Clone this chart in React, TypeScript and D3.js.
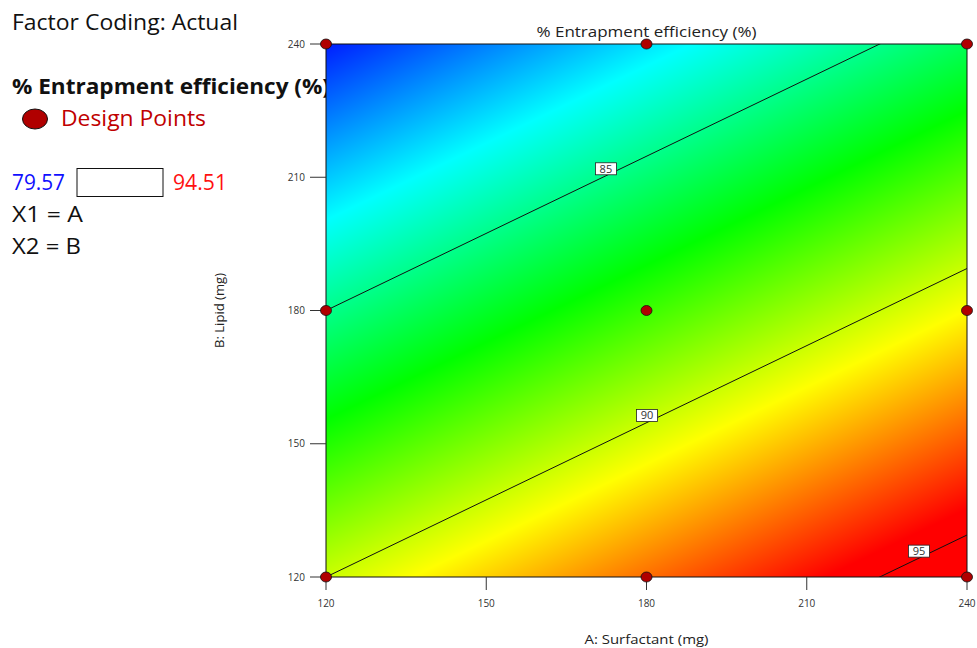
import React, { useMemo } from 'react';
import { scaleLinear, line } from 'd3';

// fitted response model (actual factors coded to -1..1): E = c + a*x1 + b*x2
const modelTerms = ['intercept', 'A', 'B'];
const modelCoefs = [87.894, 2.894, -5.0];

const dataMin = 79.57;
const dataMax = 94.51;

const axisTicks = [120, 150, 180, 210, 240];
const designA = [120, 180, 240, 120, 180, 240, 120, 180, 240];
const designB = [120, 120, 120, 180, 180, 180, 240, 240, 240];

const contourLevels = [85, 90, 95];
const contourLabelA = [172.4, 180.1, 231.0];

const colorStops = ['#0000ff', '#00ffff', '#00ff00', '#ffff00', '#ff0000'];

const W = 977;
const H = 648;
const margin = { left: 326, top: 44, right: 10, bottom: 71 };
const font = '"Open Sans", "Noto Sans", sans-serif';

const code = (v: number) => (v - 180) / 60;
const predict = (A: number, B: number) =>
  modelCoefs[0] + modelCoefs[1] * code(A) + modelCoefs[2] * code(B);

const hexToRgb = (h: string) => [1, 3, 5].map(i => parseInt(h.slice(i, i + 2), 16));

// text stretched to the width it has in the picture
const Txt = ({ x, y, len, size, fill = '#111', bold = false, anchor = 'start', transform, children }: any) => (
  <text x={x} y={y} fontSize={size} fill={fill} fontWeight={bold ? 'bold' : 'normal'}
    textAnchor={anchor} transform={transform} textLength={len} lengthAdjust="spacingAndGlyphs">
    {children}
  </text>
);

const App = () => {
  const plotW = W - margin.left - margin.right;
  const plotH = H - margin.top - margin.bottom;

  const x = scaleLinear().domain([120, 240]).range([margin.left, margin.left + plotW]);
  const y = scaleLinear().domain([120, 240]).range([margin.top + plotH, margin.top]);

  const heatmap = useMemo(() => {
    const canvas = document.createElement('canvas');
    canvas.width = plotW;
    canvas.height = plotH;
    const ctx = canvas.getContext('2d');
    if (!ctx) return '';
    const img = ctx.createImageData(plotW, plotH);
    const stops = colorStops.map(hexToRgb);
    for (let j = 0; j < plotH; j++) {
      const B = y.invert(margin.top + j + 0.5);
      for (let i = 0; i < plotW; i++) {
        const A = x.invert(margin.left + i + 0.5);
        let t = (predict(A, B) - dataMin) / (dataMax - dataMin);
        t = Math.max(0, Math.min(1, t)) * (stops.length - 1);
        const k = Math.min(stops.length - 2, Math.floor(t));
        const f = t - k;
        const p = (j * plotW + i) * 4;
        for (let c = 0; c < 3; c++) {
          img.data[p + c] = Math.round(stops[k][c] + (stops[k + 1][c] - stops[k][c]) * f);
        }
        img.data[p + 3] = 255;
      }
    }
    ctx.putImageData(img, 0, 0);
    return canvas.toDataURL();
  }, []);

  // contour lines: solve B for each A along the level
  const contourLine = line<number[]>().x(d => x(d[0])).y(d => y(d[1]));
  const levelB = (level: number, A: number) =>
    180 + 60 * (level - modelCoefs[0] - modelCoefs[1] * code(A)) / modelCoefs[2];

  const sampleA = [120, 240];

  return (
    <svg width={W} height={H} style={{ position: 'absolute', left: 0, top: 0, display: 'block' }}
      fontFamily={font}>
      <defs>
        <clipPath id="plotClip">
          <rect x={margin.left} y={margin.top} width={plotW} height={plotH} />
        </clipPath>
      </defs>

      {/* left legend */}
      <Txt x={12} y={30} size={21} len={226}>Factor Coding: Actual</Txt>
      <Txt x={12} y={94} size={21} len={318} bold>% Entrapment efficiency (%)</Txt>
      <ellipse cx={35} cy={119} rx={12.5} ry={10} fill="#b00000" stroke="#111" strokeWidth={1} />
      <Txt x={61} y={126} size={21} len={145} fill="#c00000">Design Points</Txt>
      <Txt x={12} y={190} size={21} len={53} fill="#1010ff">{dataMin.toFixed(2)}</Txt>
      <rect x={77} y={168.5} width={86} height={28} fill="#fff" stroke="#111" strokeWidth={1} />
      <Txt x={173} y={190} size={21} len={54} fill="#ff1010">{dataMax.toFixed(2)}</Txt>
      <Txt x={12} y={222} size={21} len={71}>X1 = A</Txt>
      <Txt x={12} y={254} size={21} len={69}>X2 = B</Txt>

      {/* plot */}
      <image href={heatmap} x={margin.left} y={margin.top} width={plotW} height={plotH}
        preserveAspectRatio="none" />
      <g clipPath="url(#plotClip)">
        {contourLevels.map(level => (
          <path key={level} d={contourLine(sampleA.map(A => [A, levelB(level, A)])) || ''}
            fill="none" stroke="#111" strokeWidth={1} />
        ))}
      </g>
      {contourLevels.map((level, i) => {
        const A = contourLabelA[i];
        const cx = x(A);
        const cy = y(levelB(level, A)) - 7;
        return (
          <g key={'lab' + level}>
            <rect x={cx - 10.5} y={cy - 6} width={21} height={12} fill="#fff" stroke="#222" strokeWidth={0.8} />
            <text x={cx} y={cy + 4} fontSize={11} textAnchor="middle" fill="#333">{level}</text>
          </g>
        );
      })}
      <rect x={margin.left} y={margin.top} width={plotW} height={plotH} fill="none" stroke="#111" strokeWidth={1} />

      {/* axes */}
      {axisTicks.map(t => (
        <g key={'y' + t}>
          <line x1={margin.left - 16} x2={margin.left} y1={y(t)} y2={y(t)} stroke="#333" strokeWidth={1} />
          <text x={margin.left - 21} y={y(t) + 3.5} fontSize={10} textAnchor="end" fill="#333">{t}</text>
        </g>
      ))}
      {axisTicks.map(t => (
        <g key={'x' + t}>
          <line x1={x(t)} x2={x(t)} y1={margin.top + plotH} y2={margin.top + plotH + 13} stroke="#333" strokeWidth={1} />
          <text x={x(t)} y={margin.top + plotH + 30} fontSize={10} textAnchor="middle" fill="#333">{t}</text>
        </g>
      ))}
      <Txt x={x(180)} y={37} size={14} len={220} anchor="middle" fill="#222">% Entrapment efficiency (%)</Txt>
      <Txt x={x(180)} y={644} size={12.5} len={124} anchor="middle" fill="#222">A: Surfactant (mg)</Txt>
      <Txt x={0} y={0} transform={`translate(224, ${y(180)}) rotate(-90)`} size={12.5} len={75}
        anchor="middle" fill="#222">B: Lipid (mg)</Txt>

      {/* design points */}
      {designA.map((a, i) => (
        <ellipse key={'dp' + i} cx={x(a)} cy={y(designB[i])} rx={5.5} ry={5} fill="#b00000" stroke="#111" strokeWidth={0.8} />
      ))}
    </svg>
  );
};

export default App;
